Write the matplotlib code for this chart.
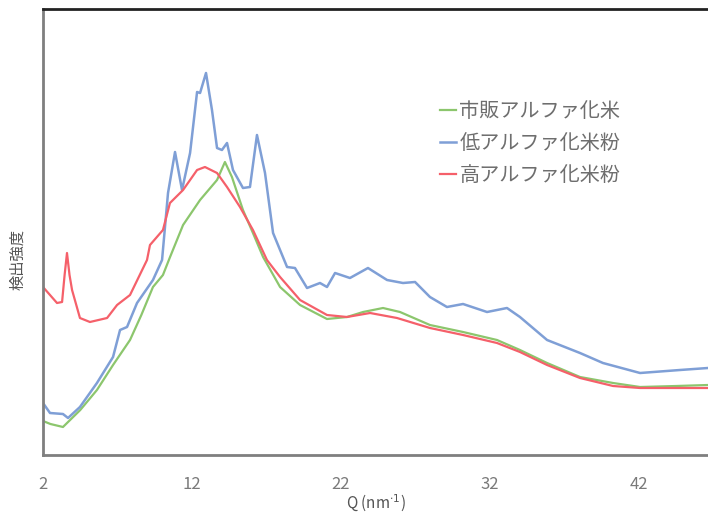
import numpy as np
import matplotlib
matplotlib.use('Agg')
from matplotlib import pyplot as plt

plt.rcParams['font.family'] = ['Noto Sans CJK JP', 'DejaVu Sans']

# 市販アルファ化米 (green)
q_green = [2.0, 2.5, 3.34, 4.5, 5.62, 6.7, 7.84, 8.6, 9.38, 10.05, 10.5, 11.4, 12.54, 13.68,
           14.21, 14.68, 15.42, 16.09, 16.77, 17.91, 19.25, 21.06, 22.4, 23.48, 24.82, 25.96,
           27.97, 30.19, 32.47, 34.01, 35.83, 38.04, 40.26, 42.07, 44.5, 46.63]
i_green = [34, 31, 28, 45, 65, 90, 115, 140, 168, 180, 197, 230, 255, 275,
           293, 278, 245, 222, 198, 168, 150, 136, 138, 143, 147, 143,
           130, 123, 115, 105, 92, 78, 72, 68, 69, 70]

# 低アルファ化米粉 (blue)
q_blue = [2.0, 2.47, 3.34, 3.68, 4.48, 5.62, 6.7, 7.17, 7.64, 8.31, 9.38, 9.99, 10.39, 10.86,
          11.33, 11.87, 12.34, 12.54, 12.94, 13.34, 13.68, 14.01, 14.35, 14.75, 15.42, 15.89,
          16.36, 16.9, 17.44, 17.91, 18.38, 18.91, 19.72, 20.59, 21.06, 21.6, 22.6, 23.81,
          25.09, 26.16, 26.97, 27.97, 29.11, 30.19, 31.8, 33.14, 34.01, 35.83, 38.04, 39.58,
          42.07, 44.75, 46.63]
i_blue = [52, 42, 41, 37, 48, 72, 98, 125, 128, 152, 175, 195, 262, 303,
          265, 302, 363, 362, 382, 345, 307, 305, 312, 285, 267, 268,
          320, 282, 222, 205, 188, 187, 167, 172, 168, 182, 177, 187,
          175, 172, 173, 158, 148, 151, 143, 147, 138, 115, 102, 92,
          82, 85, 87]

# 高アルファ化米粉 (red)
q_red = [2.0, 2.94, 3.28, 3.45, 3.61, 3.78, 3.95, 4.48, 5.15, 6.3, 6.97, 7.84, 8.98, 9.18,
         10.05, 10.52, 11.4, 12.34, 12.87, 13.68, 14.35, 15.22, 16.09, 17.03, 17.91, 19.25,
         21.06, 22.4, 23.95, 25.76, 27.97, 30.19, 32.47, 34.01, 35.83, 38.04, 40.26, 42.07,
         46.63]
i_red = [168, 152, 153, 180, 202, 180, 165, 137, 133, 137, 150, 160, 195, 210,
         225, 252, 265, 285, 288, 282, 268, 248, 225, 195, 178, 155,
         140, 138, 142, 137, 127, 120, 112, 103, 90, 77, 69, 67,
         67]

labels = ['市販アルファ化米', '低アルファ化米粉', '高アルファ化米粉']
colors = ['#8cc66d', '#7f9fd6', '#f5606a']
xticks = [2, 12, 22, 32, 42]

fig = plt.figure(figsize=(7.08, 5.17), dpi=100)
ax = fig.add_axes([43 / 708, 62 / 517, 1 - 43 / 708, 446 / 517])

ax.plot(q_green, i_green, color=colors[0], lw=1.6, label=labels[0])
ax.plot(q_blue, i_blue, color=colors[1], lw=1.8, label=labels[1])
ax.plot(q_red, i_red, color=colors[2], lw=1.6, label=labels[2])

ax.set_xlim(2, 46.63)
ax.set_ylim(0, 446)
ax.set_xticks(xticks)
ax.set_xticklabels([str(t) for t in xticks])
ax.set_yticks([])
ax.tick_params(axis='x', length=0, pad=15, labelsize=12, labelcolor='#7a7a7a')
ax.spines['right'].set_visible(False)
ax.spines['left'].set_color('#7f7f7f')
ax.spines['left'].set_linewidth(2)
ax.spines['bottom'].set_color('#7f7f7f')
ax.spines['bottom'].set_linewidth(2)
ax.spines['top'].set_color('#222222')
ax.spines['top'].set_linewidth(2)

ax.set_xlabel('Q (nm$^{\\cdot1}$)', fontsize=11, color='#555555', labelpad=0)
fig.text(18 / 708, 1 - 260 / 517, '検出強度', rotation=90, ha='center', va='center',
         fontsize=11, color='#555555')

leg = ax.legend(loc='upper left', bbox_to_anchor=(0.57, 0.835), frameon=False,
                fontsize=14.5, handlelength=0.8, handletextpad=0.15, labelspacing=0.55)
for t in leg.get_texts():
    t.set_color('#6e6e6e')

fig.savefig('out.png', dpi=100)
